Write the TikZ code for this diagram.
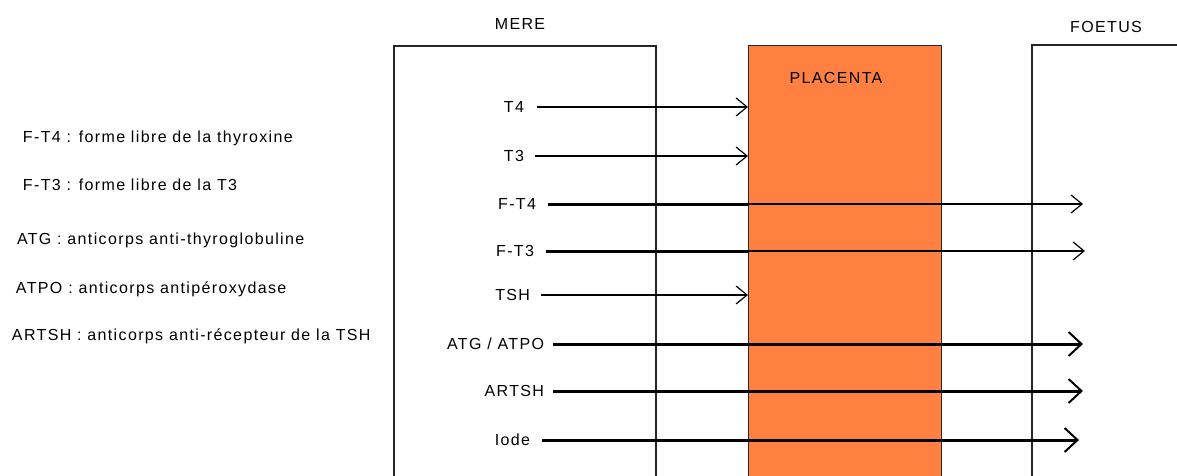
\documentclass[tikz,border=0pt]{standalone}
\usepackage{fontspec}
\setmainfont{Liberation Sans}[LetterSpace=8.5]
\usetikzlibrary{arrows.meta}
\definecolor{placenta}{HTML}{FF8040}
\tikzset{
  lab/.style={inner sep=0pt, outer sep=0pt, font=\fontsize{16}{18}\selectfont, anchor=east},
  leg/.style={inner sep=0pt, outer sep=0pt, font=\fontsize{16}{18}\selectfont, anchor=west},
  ttl/.style={inner sep=0pt, font=\fontsize{16}{18}\selectfont},
  box/.style={line width=1.3pt, draw=black!85},
  thinarr/.style={line width=1.2pt, -{Straight Barb[length=11pt,width=18pt,line width=1.2pt]}},
  thickline/.style={line width=3pt},
  thickarr/.style={line width=3pt, -{Straight Barb[length=13pt,width=24pt,line width=2pt]}},
}
\begin{document}
\begin{tikzpicture}[x=1pt,y=-1pt]
\useasboundingbox (0,0) rectangle (1177,476);
% boxes
\draw[box] (394,490) -- (394,46) -- (656,46) -- (656,490);
\draw[box] (1032,490) -- (1032,45) -- (1190,45);
\node[box, fill=placenta, draw=black!85, minimum width=193pt, minimum height=450pt, anchor=north west, inner sep=0pt] (pl) at (748,45) {};
% titles
\node[ttl] (mere) at (520,24) {MERE};
\node[ttl] (plt) at (836,78) {PLACENTA};
\node[ttl] (foe) at (1106,27) {FOETUS};
% target coordinates (foetus side)
\coordinate (tF4) at (1083,204);
\coordinate (tF3) at (1085,251);
\coordinate (tATG) at (1083,344);
\coordinate (tART) at (1083,391);
\coordinate (tIod) at (1079,440);
% labels
\node[lab] (lT4) at (524,107) {T4};
\node[lab] (lT3) at (524,156) {T3};
\node[lab] (lF4) at (536,204) {F-T4};
\node[lab] (lF3) at (534,251) {F-T3};
\node[lab] (lTSH) at (530,295) {TSH};
\node[lab] (lATG) at (544,344) {ATG / ATPO};
\node[lab] (lART) at (544,391) {ARTSH};
\node[lab] (lIod) at (530,440) {Iode};
% thin arrows to placenta
\draw[thinarr] ([xshift=13pt]lT4.east) -- (pl.west |- lT4.east);
\draw[thinarr] ([xshift=11pt]lT3.east) -- (pl.west |- lT3.east);
\draw[thinarr] ([xshift=11pt]lTSH.east) -- (pl.west |- lTSH.east);
% free forms crossing
\draw[thickline] ([xshift=12pt]lF4.east) -- (pl.west |- lF4.east);
\draw[thinarr] (pl.west |- lF4.east) -- (tF4);
\draw[thickline] ([xshift=12pt]lF3.east) -- (pl.west |- lF3.east);
\draw[thinarr] (pl.west |- lF3.east) -- (tF3);
% thick arrows
\draw[thickarr] ([xshift=9pt]lATG.east) -- (tATG);
\draw[thickarr] ([xshift=9pt]lART.east) -- (tART);
\draw[thickarr] ([xshift=12pt]lIod.east) -- (tIod);
% legend
\node[leg] (g1) at (23,138) {F-T4 : forme libre de la thyroxine};
\node[leg] (g2) at (23,185) {F-T3 : forme libre de la T3};
\node[leg] (g3) at (17,240) {ATG : anticorps anti-thyroglobuline};
\node[leg] (g4) at (16,289) {ATPO : anticorps antipéroxydase};
\node[leg] (g5) at (12,336) {ARTSH : anticorps anti-récepteur de la TSH};
\end{tikzpicture}
\end{document}
